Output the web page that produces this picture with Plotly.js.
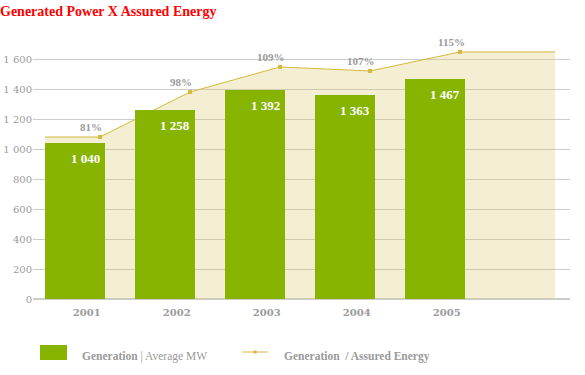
<!DOCTYPE html>
<html><head><meta charset="utf-8">
<script src="https://cdn.plot.ly/plotly-3.0.1.min.js"></script>
<style>html,body{margin:0;padding:0;background:#fff}#chart{width:585px;height:375px}</style>
</head><body><div id="chart"></div>
<script>
const years = ['2001','2002','2003','2004','2005'];
const generation = [1040, 1258, 1392, 1363, 1467];
const ratioLevel = [1080, 1380, 1547, 1520, 1647];
const ratioLabels = ['81%','98%','109%','107%','115%'];
const yTicks = [0,200,400,600,800,1000,1200,1400,1600];

const fmt = v => String(v).replace(/\B(?=(\d{3})+(?!\d))/g, ' ');
const FONT = 'Liberation Serif, serif';
const TFONT = 'DejaVu Serif, serif';
const GREEN = '#86b400', LINE = '#d4ba3c', FILL = 'rgba(218,198,108,0.3)', GRAY = '#9a9a9a';

// plot area in pixels: x 33..570, y 32..299
const px = v => (v - 33) / 537;
const py = v => (299 - v) / 267;

const idx = years.map((_, i) => i);
const off = 0.278;
const lx = [-1/3].concat(idx.map(i => i + off), [years.length + 1/3]);
const ly = [ratioLevel[0]].concat(ratioLevel, [ratioLevel[ratioLevel.length - 1]]);

const traces = [
  {type:'scatter', x: lx, y: ly, mode:'lines', fill:'tozeroy', fillcolor: FILL,
   line:{color: LINE, width:1}, hoverinfo:'skip', showlegend:false},
  {type:'scatter', x: idx.map(i => i + off), y: ratioLevel, mode:'markers',
   marker:{symbol:'square', size:4, color: LINE}, showlegend:false},
  {type:'bar', x: idx, y: generation, width: 2/3, xaxis:'x2', marker:{color: GREEN}, showlegend:false}
];

const ann = [];
idx.forEach(i => {
  ann.push({x: i + 0.3, y: generation[i], xref:'x', yref:'y', text:'<b>' + fmt(generation[i]) + '</b>',
    showarrow:false, xanchor:'right', yanchor:'top', yshift:-6,
    font:{family: FONT, size:13, color:'#ffffff'}});
  ann.push({x: i + off - 0.1, y: ratioLevel[i], xref:'x', yref:'y', text:'<b>' + ratioLabels[i] + '</b>',
    showarrow:false, xanchor:'center', yanchor:'bottom', yshift:2,
    font:{family: FONT, size:11, color: GRAY}});
});
ann.push({x: px(80), y: py(356), xref:'paper', yref:'paper', xanchor:'left', yanchor:'middle',
  text:'<b>Generation</b> | Average MW', showarrow:false, font:{family: FONT, size:11.5, color: GRAY}});
ann.push({x: px(282), y: py(356), xref:'paper', yref:'paper', xanchor:'left', yanchor:'middle',
  text:'<b>Generation  / Assured Energy</b>', showarrow:false, font:{family: FONT, size:11.5, color: GRAY}});

const shapes = [
  {type:'rect', xref:'paper', yref:'paper', x0:px(40), x1:px(67), y0:py(360), y1:py(345),
   fillcolor: GREEN, line:{width:0}},
  {type:'line', xref:'paper', yref:'paper', x0:px(242), x1:px(268), y0:py(352), y1:py(352),
   line:{color: LINE, width:1}},
  {type:'rect', xref:'paper', yref:'paper', x0:px(253.5), x1:px(256.5), y0:py(353.5), y1:py(350.5),
   fillcolor: LINE, line:{width:0}}
];

const layout = {
  width:585, height:375,
  margin:{l:33, r:15, t:32, b:76},
  paper_bgcolor:'#fff', plot_bgcolor:'#fff',
  title:{text:'<b>Generated Power X Assured Energy</b>', x:0, xanchor:'left', y:1-11/375, yanchor:'middle',
    xref:'container', yref:'container', pad:{l:0,t:0,b:0,r:0}, font:{family: FONT, size:14, color:'#ff0000'}},
  xaxis:{range:[-0.467, 5.5], tickvals: idx.map(i => i + 0.13), ticktext: years.map(y => '<b>' + y + '</b>'),
    showgrid:false, zeroline:false, showline:false, ticks:'', ticklabelstandoff:6,
    tickfont:{family: TFONT, size:10, color: GRAY}, fixedrange:true},
  xaxis2:{range:[-0.467, 5.5], overlaying:'x', visible:false, showgrid:false, zeroline:false, fixedrange:true},
  yaxis:{range:[0, 1780], tickvals: yTicks, ticktext: yTicks.map(fmt), showgrid:true, gridcolor:'#cccccc',
    gridwidth:1, zeroline:true, zerolinecolor:'#cccccc', zerolinewidth:2, showline:false, ticks:'',
    tickfont:{family: TFONT, size:10, color: GRAY}, fixedrange:true},
  annotations: ann, shapes: shapes, showlegend:false, bargap:0
};

Plotly.newPlot('chart', traces, layout, {displayModeBar:false, staticPlot:true});
</script></body></html>
